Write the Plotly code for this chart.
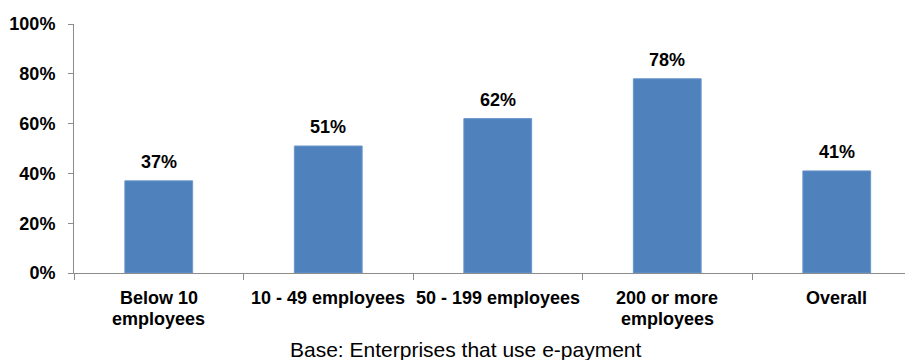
import plotly.graph_objects as go

categories = ["Below 10<br>employees", "10 - 49 employees", "50 - 199 employees",
              "200 or more<br>employees", "Overall"]
values = [0.37, 0.51, 0.62, 0.78, 0.41]
labels = ["37%", "51%", "62%", "78%", "41%"]
y_ticks = [0, 0.2, 0.4, 0.6, 0.8, 1.0]
y_tick_labels = ["0%", "20%", "40%", "60%", "80%", "100%"]
caption = "Base: Enterprises that use e-payment"

W, H = 905, 360
ML, MR, MT, MB = 74, 0, 24, 87
PH = H - MT - MB
cat_px = 169.5
x_end = (W - ML) / cat_px - 0.5

font = "Liberation Sans, Arial, sans-serif"
axis_col = "#8c8c8c"


def py(pix):
    """pixel row -> paper y"""
    return (H - MB - pix) / PH


fig = go.Figure(go.Bar(
    x=categories, y=values,
    marker=dict(color="#4F81BD", line=dict(color="#6b97cc", width=1)),
    width=0.4,
))

for c, v, t in zip(categories, values, labels):
    fig.add_annotation(x=c, y=v, text="<b>%s</b>" % t, showarrow=False,
                       yanchor="bottom", yshift=7,
                       font=dict(family=font, size=18, color="black"))

# category labels, line by line
line_rows = [297.5, 318.5]
for c in categories:
    for i, part in enumerate(c.split("<br>")):
        fig.add_annotation(x=c, xref="x", yref="paper", y=py(line_rows[i]),
                           text="<b>%s</b>" % part, showarrow=False,
                           xanchor="center", yanchor="middle",
                           font=dict(family=font, size=18, color="black"))

fig.add_annotation(xref="paper", yref="paper",
                   x=(466 - ML) / (W - ML - MR), y=py(349.5),
                   text=caption, showarrow=False, xanchor="center", yanchor="middle",
                   font=dict(family=font, size=21, color="black"))

fig.update_layout(
    width=W, height=H,
    margin=dict(l=ML, r=MR, t=MT, b=MB),
    paper_bgcolor="white", plot_bgcolor="white",
    showlegend=False,
    font=dict(family=font, color="black"),
    xaxis=dict(
        type="category", range=[-0.5, x_end],
        showline=True, linecolor=axis_col, linewidth=1,
        ticks="outside", tickson="boundaries", ticklen=6, tickcolor=axis_col,
        showticklabels=False,
        showgrid=False, zeroline=False,
    ),
    yaxis=dict(
        range=[0, 1.0], tickvals=y_ticks, ticktext=["<b>%s</b>" % t for t in y_tick_labels],
        showline=True, linecolor=axis_col, linewidth=1,
        ticks="outside", ticklen=5, tickcolor=axis_col,
        tickfont=dict(family=font, size=18, color="black"),
        showgrid=False, zeroline=False,
        ticklabelstandoff=9,
    ),
)

fig.write_html("out.html")
